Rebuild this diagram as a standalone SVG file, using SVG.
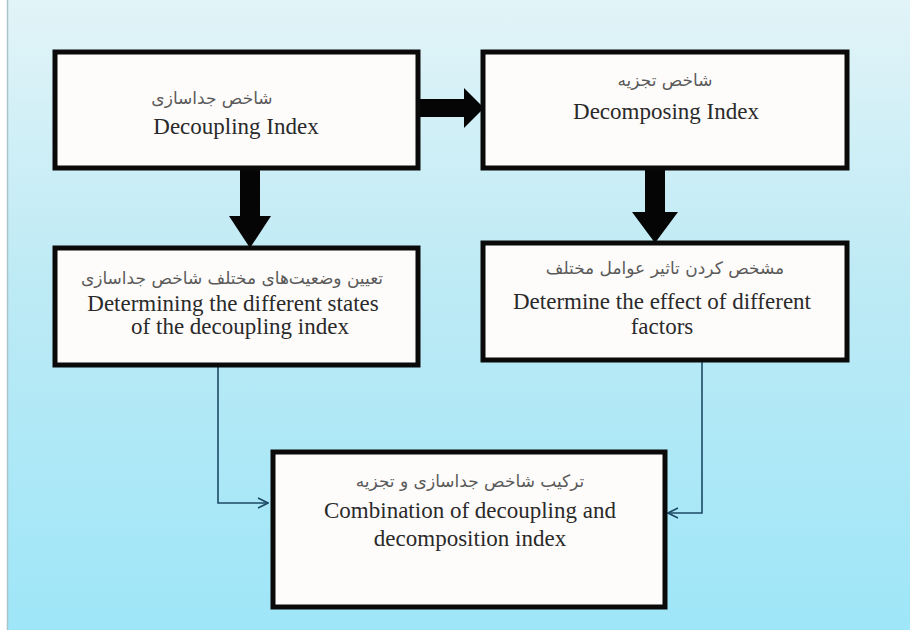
<svg xmlns="http://www.w3.org/2000/svg" width="910" height="630" viewBox="0 0 910 630">
<defs>
<linearGradient id="bg" x1="0" y1="0" x2="0" y2="1">
<stop offset="0" stop-color="#e2f4f8"/>
<stop offset="0.45" stop-color="#bdeaf5"/>
<stop offset="1" stop-color="#9ee6f8"/>
</linearGradient>
<marker id="open" viewBox="0 0 12 12" refX="11" refY="6" markerWidth="12" markerHeight="12" markerUnits="userSpaceOnUse" orient="auto">
<path d="M1 1 L11 6 L1 11" fill="none" stroke="#1d4a66" stroke-width="1.6"/>
</marker>
<style>
.box{fill:#fefcfb;stroke:#0a0a0a;stroke-width:5}
.en{font-family:"Liberation Serif","Times New Roman",serif;font-size:23px;fill:#2a2a2a;text-anchor:middle}
.fa{font-family:"DejaVu Sans","Noto Sans",sans-serif;font-size:17px;fill:#5a5a5a;text-anchor:middle}
.thick{fill:#050505}
.thin{fill:none;stroke:#1d4a66;stroke-width:1.6}
</style>
</defs>
<rect x="0" y="0" width="910" height="630" fill="url(#bg)"/>
<rect x="0" y="0" width="7" height="630" fill="#ffffff"/>
<line x1="7.5" y1="0" x2="7.5" y2="630" stroke="#aac4cc" stroke-width="1.5"/>

<g id="connectors">
<polygon class="thick" points="418,99 464,99 464,88 484,108 464,128 464,117 418,117"/>
<polygon class="thick" points="240,168 260,168 260,216 271,216 250,248 229,216 240,216"/>
<polygon class="thick" points="645,168 665,168 665,212 678,212 655,243 632,212 645,212"/>
<path class="thin" d="M218 365 V503 H268" marker-end="url(#open)"/>
<path class="thin" d="M702 360 V513 H668" marker-end="url(#open)"/>
</g>

<g id="decoupling">
<rect class="box" x="55" y="52" width="363" height="116"/>
<text class="fa" x="212" y="104" direction="rtl">شاخص جداسازی</text>
<text class="en" x="236" y="134">Decoupling Index</text>
</g>

<g id="decomposing">
<rect class="box" x="483" y="52" width="364" height="116"/>
<text class="fa" x="665" y="86" direction="rtl">شاخص تجزیه</text>
<text class="en" x="666" y="119">Decomposing Index</text>
</g>

<g id="states">
<rect class="box" x="55" y="248" width="363" height="117"/>
<text class="fa" x="232" y="284" direction="rtl">تعیین وضعیت‌های مختلف شاخص جداسازی</text>
<text class="en" x="233" y="311">Determining the different states</text>
<text class="en" x="240" y="334">of the decoupling index</text>
</g>

<g id="effect">
<rect class="box" x="483" y="243" width="364" height="117"/>
<text class="fa" x="665" y="274" direction="rtl">مشخص کردن تاثیر عوامل مختلف</text>
<text class="en" x="662" y="309">Determine the effect of different</text>
<text class="en" x="662" y="334">factors</text>
</g>

<g id="combination">
<rect class="box" x="273" y="452" width="392" height="155"/>
<text class="fa" x="470" y="487" direction="rtl">ترکیب شاخص جداسازی و تجزیه</text>
<text class="en" x="470" y="518">Combination of decoupling and</text>
<text class="en" x="470" y="546">decomposition index</text>
</g>
</svg>
